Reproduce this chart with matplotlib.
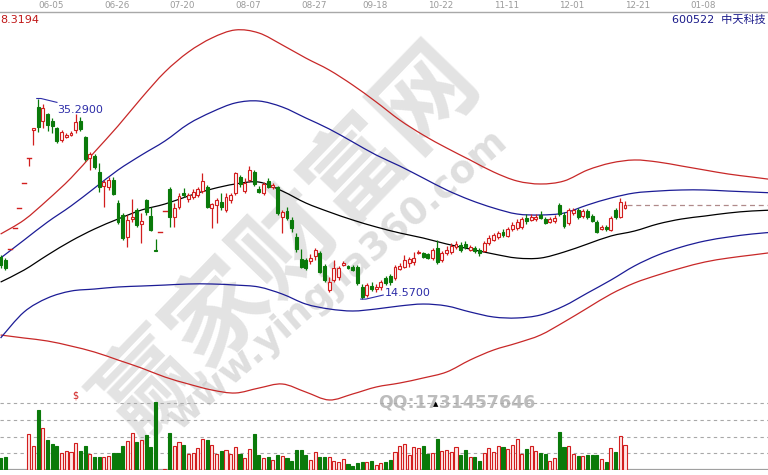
import matplotlib
matplotlib.use("Agg")
import matplotlib.pyplot as plt
from matplotlib.patches import Rectangle, PathPatch
from matplotlib.path import Path
from matplotlib.lines import Line2D
import numpy as np

plt.rcParams['font.family'] = ['DejaVu Sans', 'Noto Sans CJK SC']

# ---------------- data ----------------
stock_code = "600522"
stock_name = "中天科技"
corner_value = "8.3194"
date_labels = ["06-05", "06-26", "07-20", "08-07", "08-27", "09-18",
               "10-22", "11-11", "12-01", "12-21", "01-08"]
date_label_idx = [8, 22, 36, 50, 64, 77, 91, 105, 119, 133, 147]

open_ = [18.92, 18.61, 19.74, 21.91, 23.98, 26.56, 29.14, 32.04, 34.41, 32.97,
         33.69, 32.97, 32.25, 31.00, 31.31, 31.57, 32.04, 32.97, 31.31, 29.14,
         29.35, 27.70, 26.25, 26.15, 26.87, 24.50, 23.26, 20.98, 22.84, 23.77,
         22.33, 24.81, 23.15, 19.59, 21.50, 23.67, 25.94, 23.05, 24.08, 25.53,
         24.91, 25.11, 25.32, 25.73, 26.15, 23.98, 24.29, 24.60, 23.77, 24.81,
         25.53, 27.18, 25.73, 26.87, 27.70, 25.94, 25.53, 26.77, 26.15, 26.15,
         23.05, 23.67, 22.74, 20.98, 18.71, 18.61, 18.50, 19.02, 19.33, 17.99,
         15.51, 16.54, 16.85, 18.09, 17.94, 17.88, 17.88, 15.82, 14.99, 15.92,
         15.61, 15.82, 16.75, 16.95, 16.75, 17.68, 17.88, 18.30, 18.40, 19.33,
         19.33, 19.18, 18.82, 19.85, 18.61, 19.33, 19.43, 19.95, 20.16, 20.26,
         19.64, 19.85, 19.64, 19.54, 20.36, 20.67, 20.98, 21.50, 21.09, 21.81,
         21.91, 22.02, 22.95, 22.74, 22.84, 23.26, 22.84, 22.53, 22.64, 24.29,
         23.26, 22.43, 23.46, 23.77, 23.15, 23.67, 23.15, 22.53, 21.81, 21.97,
         21.71, 23.77, 23.05, 23.98]
close_ = [18.09, 17.78, 19.74, 21.91, 23.98, 26.56, 29.14, 32.25, 32.35, 34.31,
          32.55, 32.50, 30.90, 31.83, 31.52, 31.73, 32.86, 32.14, 29.04, 29.55,
          28.21, 26.15, 26.66, 26.87, 25.42, 22.53, 20.88, 22.74, 23.05, 22.22,
          22.64, 23.57, 21.71, 19.54, 21.50, 23.67, 23.05, 23.98, 25.22, 25.32,
          25.32, 25.63, 25.94, 26.77, 24.08, 24.39, 24.81, 24.08, 25.11, 25.32,
          27.59, 26.46, 26.56, 27.90, 26.46, 25.63, 26.46, 26.15, 26.35, 23.46,
          23.57, 22.95, 21.91, 19.74, 17.88, 17.78, 18.82, 19.64, 17.37, 16.54,
          16.33, 17.78, 17.78, 18.30, 17.78, 17.57, 16.23, 14.78, 16.02, 15.61,
          15.82, 16.33, 16.23, 16.33, 17.88, 17.99, 18.61, 18.71, 18.82, 19.43,
          18.92, 18.82, 19.64, 18.40, 19.33, 19.64, 20.05, 20.26, 19.64, 19.95,
          19.95, 19.54, 19.33, 20.36, 20.88, 21.19, 21.40, 21.19, 21.81, 22.22,
          22.53, 22.84, 22.64, 23.05, 23.05, 22.95, 22.43, 22.84, 22.95, 23.36,
          22.12, 23.77, 23.77, 23.05, 23.67, 23.05, 22.64, 21.50, 22.02, 21.86,
          22.95, 23.05, 24.60, 24.29]
high_ = [19.12, 18.82, 19.74, 21.91, 23.98, 26.56, 29.14, 32.25, 35.29, 34.72,
         33.79, 33.28, 32.35, 32.04, 31.73, 31.93, 33.69, 33.38, 31.42, 29.76,
         29.55, 28.63, 26.87, 27.18, 27.18, 24.81, 23.46, 23.26, 24.91, 23.98,
         23.46, 24.91, 24.08, 20.78, 21.50, 23.67, 26.15, 24.50, 25.53, 26.04,
         25.53, 25.94, 26.15, 27.59, 26.35, 24.50, 25.01, 25.53, 25.53, 25.53,
         27.70, 27.39, 27.08, 28.32, 27.90, 26.25, 26.66, 27.08, 26.56, 26.25,
         23.77, 24.08, 23.05, 21.40, 19.74, 18.82, 19.23, 19.85, 19.54, 18.19,
         16.85, 18.61, 17.99, 18.50, 18.09, 18.09, 18.09, 16.13, 16.23, 16.33,
         16.13, 16.54, 16.95, 17.16, 18.09, 18.30, 19.12, 18.92, 19.43, 19.64,
         19.43, 19.33, 19.85, 20.67, 19.54, 20.05, 20.36, 20.57, 20.47, 20.57,
         20.16, 20.05, 19.85, 20.57, 21.19, 21.40, 21.60, 21.81, 22.02, 22.53,
         22.84, 23.05, 23.36, 23.36, 23.36, 23.67, 23.05, 23.05, 23.26, 24.50,
         23.57, 23.98, 23.98, 23.98, 23.88, 23.88, 23.36, 22.74, 22.22, 22.22,
         23.15, 23.98, 25.01, 24.70]
low_ = [17.78, 17.57, 19.74, 21.91, 23.98, 26.56, 28.32, 30.48, 31.83, 32.25,
        31.93, 31.73, 30.69, 30.79, 31.21, 31.42, 31.73, 31.93, 28.83, 27.90,
        28.01, 25.63, 24.08, 25.84, 25.32, 22.33, 20.67, 19.95, 22.53, 22.02,
        20.36, 23.26, 21.60, 19.54, 21.50, 23.67, 22.02, 22.02, 23.88, 25.11,
        24.60, 24.91, 25.11, 25.53, 23.98, 21.91, 22.43, 23.77, 23.57, 24.50,
        25.32, 26.15, 25.53, 26.66, 26.25, 25.53, 25.32, 26.04, 25.94, 23.26,
        21.40, 22.74, 21.50, 19.43, 17.78, 17.57, 18.19, 18.61, 17.26, 16.33,
        15.30, 16.33, 16.54, 17.99, 17.68, 17.47, 16.02, 14.57, 14.78, 15.40,
        15.30, 15.51, 16.02, 16.02, 16.54, 17.57, 17.78, 17.88, 18.09, 19.23,
        18.82, 18.71, 18.61, 18.19, 18.40, 19.12, 19.23, 19.74, 19.43, 19.74,
        19.54, 19.33, 19.02, 19.43, 20.16, 20.57, 20.78, 20.98, 20.98, 21.60,
        21.71, 21.81, 22.33, 22.64, 22.64, 22.84, 22.33, 22.43, 22.43, 23.15,
        21.91, 22.22, 23.26, 22.84, 22.95, 22.84, 22.53, 21.40, 21.71, 21.60,
        21.60, 22.84, 22.95, 23.88]
volume = [7.2, 7.8, 0, 0, 0, 0, 21.6, 14.4, 36.0, 25.2,
          18.0, 15.6, 14.4, 10.4, 11.4, 10.8, 16.2, 11.6, 14.4, 9.6,
          7.8, 7.8, 8.0, 8.4, 10.4, 10.4, 14.4, 17.4, 22.2, 16.8,
          18.0, 21.0, 14.0, 40.6, 0, 0.8, 22.2, 14.4, 16.8, 15.0,
          9.6, 10.4, 13.2, 18.6, 18.0, 15.0, 9.6, 11.6, 12.0, 9.6,
          13.8, 9.6, 7.2, 12.6, 21.6, 9.0, 7.2, 8.0, 6.0, 9.0,
          8.4, 7.2, 5.6, 12.0, 12.0, 9.0, 6.0, 11.0, 7.8, 7.8,
          7.8, 5.4, 5.0, 6.8, 3.6, 2.4, 4.2, 4.8, 4.8, 5.4, 3.0, 4.2,
          5.0, 6.0, 11.0, 14.4, 15.6, 9.0, 13.6, 13.0, 14.4, 9.6,
          10.4, 18.4, 11.6, 12.0, 11.0, 13.6, 9.0, 12.0, 8.0, 7.6,
          5.4, 10.4, 13.0, 11.0, 14.4, 14.0, 12.4, 15.0, 18.4, 9.6,
          12.4, 14.4, 11.6, 10.4, 9.6, 5.6, 7.0, 23.0, 13.6, 14.4,
          9.6, 8.4, 8.4, 9.0, 9.0, 9.0, 6.4, 5.0, 13.0, 11.0, 20.4, 15.0]

band_idx = list(range(0, 170, 5))
upper_red = [21.29, 22.74, 24.81, 27.08, 29.76, 32.45, 35.34, 38.03, 40.09, 41.54,
             42.37, 42.06, 40.82, 39.47, 38.23, 36.68, 34.93, 33.07, 31.52, 30.18,
             28.94, 27.70, 26.77, 26.46, 26.77, 27.90, 28.63, 28.94, 28.73, 28.32,
             27.90, 27.49, 27.18, 26.87]
upper_blue = [18.81, 20.67, 22.53, 24.19, 26.04, 27.90, 29.45, 30.90, 32.66, 33.90,
              34.83, 35.03, 34.41, 33.28, 32.14, 30.80, 29.45, 28.32, 27.08, 25.84,
              24.81, 23.98, 23.36, 23.26, 23.46, 24.29, 25.01, 25.53, 25.73, 25.84,
              25.84, 25.73, 25.63, 25.53]
middle = [16.33, 17.57, 19.12, 20.57, 21.81, 22.84, 23.77, 24.39, 25.22, 25.94,
          26.46, 26.66, 25.73, 24.50, 23.57, 22.74, 22.02, 21.40, 20.88, 20.26,
          19.74, 19.23, 18.81, 18.81, 19.43, 20.26, 21.09, 21.60, 22.33, 22.84,
          23.15, 23.46, 23.67, 23.77]
lower_blue = [10.55, 13.24, 14.68, 15.40, 15.61, 15.82, 15.92, 16.02, 16.13, 16.13,
              16.02, 15.82, 15.09, 14.06, 13.55, 13.34, 13.55, 13.86, 14.06, 13.86,
              13.24, 12.72, 12.62, 12.93, 13.86, 15.20, 16.54, 17.99, 19.12, 19.95,
              20.57, 20.98, 21.29, 21.50]
lower_red = [10.86, 10.55, 10.24, 9.72, 9.10, 8.28, 7.45, 6.52, 5.80, 5.18,
             4.87, 5.38, 5.80, 4.97, 4.15, 4.77, 5.49, 5.90, 6.42, 7.04,
             8.28, 9.31, 10.03, 10.86, 12.20, 13.65, 15.09, 16.23, 17.06, 17.78,
             18.40, 18.81, 19.12, 19.43]

# ---------------- figure ----------------
W, H = 768, 475
XSTEP, X0 = 4.695, 0.6
XLIM = (-X0 / XSTEP, (W - X0) / XSTEP)

RED = '#d21e1e'
GREEN = '#0a7a0a'
BLUE = '#1c1c96'
LBLUE = '#2d2da8'

fig = plt.figure(figsize=(W / 100, H / 100), dpi=100)
fig.patch.set_facecolor('white')

ax = fig.add_axes([0, 0, 1, 1])
ax.set_xlim(*XLIM)
ax.set_ylim(-3.6, 45.465)
ax.axis('off')

axv = fig.add_axes([0, 5 / H, 1, 70 / H])
axv.set_xlim(*XLIM)
axv.set_ylim(0, 42)
axv.axis('off')
axv.patch.set_alpha(0)


def smooth_line(axis, xs, ys, **kw):
    """Draw a smooth (Catmull-Rom as cubic Bezier) line through the points."""
    pts = np.column_stack([xs, ys]).astype(float)
    verts = [tuple(pts[0])]
    codes = [Path.MOVETO]
    for k in range(len(pts) - 1):
        p0 = pts[k - 1] if k > 0 else pts[k]
        p1, p2 = pts[k], pts[k + 1]
        p3 = pts[k + 2] if k + 2 < len(pts) else pts[k + 1]
        c1 = p1 + (p2 - p0) / 6.0
        c2 = p2 - (p3 - p1) / 6.0
        verts += [tuple(c1), tuple(c2), tuple(p2)]
        codes += [Path.CURVE4] * 3
    axis.add_patch(PathPatch(Path(verts, codes), fill=False, **kw))


# watermark (behind data)
ax.text(0.375, 0.49, "赢家财富网", transform=fig.transFigure, rotation=46,
        fontsize=72, fontweight='bold', color='#c8c8c8', alpha=0.5,
        ha='center', va='center', family=['Noto Sans CJK SC'], zorder=0.5)
ax.text(0.44, 0.41, "www.yingjia360.com", transform=fig.transFigure, rotation=41,
        fontsize=27, fontweight='bold', color='#c4c4c4', alpha=0.55,
        ha='center', va='center', zorder=0.5)
ax.text(0.595, 1 - 402 / H, "QQ:1731457646", transform=fig.transFigure,
        fontsize=12.5, fontweight='bold', color='#bcbcbc', ha='center', va='center', zorder=0.6)

# bands
smooth_line(ax, band_idx, upper_red, edgecolor='#c82828', lw=0.9, zorder=2)
smooth_line(ax, band_idx, lower_red, edgecolor='#c82828', lw=0.9, zorder=2)
smooth_line(ax, band_idx, upper_blue, edgecolor=BLUE, lw=0.9, zorder=2)
smooth_line(ax, band_idx, lower_blue, edgecolor=BLUE, lw=0.9, zorder=2)
smooth_line(ax, band_idx, middle, edgecolor='black', lw=0.9, zorder=2)

# candles
bw = 0.62
for i, (o, c, h, l) in enumerate(zip(open_, close_, high_, low_)):
    up = c >= o
    col = RED if up else GREEN
    bot, top = min(o, c), max(o, c)
    if h == l:
        ax.plot([i - bw / 2 - 0.1, i + bw / 2 + 0.1], [c, c], color=col, lw=1.0, zorder=3)
        continue
    ax.plot([i, i], [top, h], color=col, lw=0.9, zorder=3, solid_capstyle='butt')
    ax.plot([i, i], [l, bot], color=col, lw=0.9, zorder=3, solid_capstyle='butt')
    if top - bot < 0.05:
        ax.plot([i - bw / 2 - 0.1, i + bw / 2 + 0.1], [c, c], color=col, lw=1.0, zorder=3)
    else:
        ax.add_patch(Rectangle((i - bw / 2, bot), bw, top - bot,
                               facecolor='#fff6f6' if up else GREEN,
                               edgecolor=col, lw=0.8, zorder=4))

# high / low markers
imax = int(np.argmax(high_))
hi = high_[imax]
ax.plot([imax - 0.3, imax + 0.6, imax + 4.0], [hi, hi, hi - 0.4], color=LBLUE, lw=0.8, zorder=5)
ax.text(imax + 4.1, hi - 1.2, f"{hi:.4f}", color=LBLUE, fontsize=8, va='center', ha='left', zorder=5)
imin = int(np.argmin(low_))
lo = low_[imin]
ax.plot([imin - 0.3, imin + 0.8, imin + 4.5], [lo, lo, lo + 0.42], color=LBLUE, lw=0.8, zorder=5)
ax.text(imin + 4.9, lo + 0.68, f"{lo:.4f}", color=LBLUE, fontsize=8, va='center', ha='left', zorder=5)

# last close dashed line
n = len(close_)
ax.plot([n - 0.5, XLIM[1]], [close_[-1], close_[-1]], color='#b08a8a', lw=0.9,
        ls=(0, (4, 3)), zorder=2)

# volume
for g in (10, 20, 30, 40):
    axv.axhline(g, color='#a8a8a8', lw=0.8, ls=(0, (3, 3)), zorder=1)
axv.axhline(0, color='#a0a0a0', lw=1.6, zorder=1)
for i, v in enumerate(volume):
    if v <= 0:
        continue
    up = close_[i] >= open_[i]
    axv.bar(i, v, width=0.66, bottom=0,
            facecolor='#ffe6e6' if up else GREEN,
            edgecolor=RED if up else GREEN, lw=0.8, zorder=3)

# header
fig.add_artist(Line2D([0, 1], [1 - 12 / H] * 2, transform=fig.transFigure,
                      color='#a8a8a8', lw=1.0))
for lab, ix in zip(date_labels, date_label_idx):
    fig.text((X0 + ix * XSTEP) / W, 1 - 6 / H, lab, fontsize=6.3, color='#9a9a9a',
             ha='left', va='center')
fig.text(0.0, 1 - 20 / H, corner_value, fontsize=8, color='#c01818', ha='left', va='center')
fig.text(0.997, 1 - 20 / H, f"{stock_code}  {stock_name}", fontsize=8, color='#1a1a8a',
         ha='right', va='center', family=['DejaVu Sans', 'Noto Sans CJK SC'])
fig.text(75 / W, 1 - 395 / H, "$", fontsize=7, color='#d02020', ha='center', va='center')
fig.text(436 / W, 1 - 404 / H, "▲", fontsize=5, color='black', ha='center', va='center')

fig.savefig("out.png", dpi=100)
